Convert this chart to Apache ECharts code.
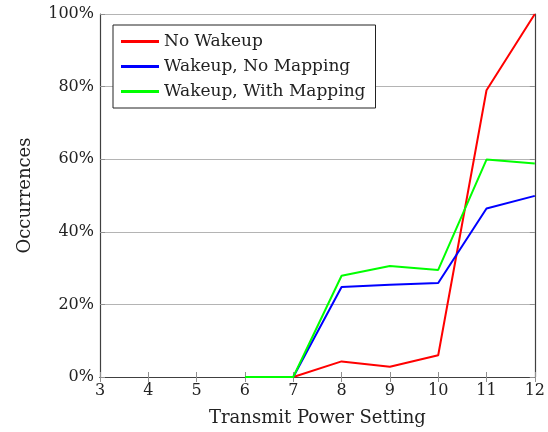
<!DOCTYPE html>
<html><head><meta charset="utf-8">
<script src="https://cdn.jsdelivr.net/npm/echarts@6/dist/echarts.min.js"></script>
<style>html,body{margin:0;padding:0;background:#fff}#c{width:548px;height:432px}</style>
</head><body><div id="c"></div>
<script>
const xValues = [3, 4, 5, 6, 7, 8, 9, 10, 11, 12];
const seriesNames = ['No Wakeup', 'Wakeup, No Mapping', 'Wakeup, With Mapping'];
const noWakeup = [null, null, null, null, 0, 4.3, 2.8, 6.0, 79.0, 100];
const wakeupNoMapping = [null, null, null, null, 0, 24.8, 25.4, 25.9, 46.4, 49.9];
const wakeupWithMapping = [null, null, null, 0, 0, 27.9, 30.6, 29.5, 59.9, 58.8];
const colors = ['#ff0000', '#0000ff', '#00ff00'];
const xTitle = 'Transmit Power Setting';
const yTitle = 'Occurrences';

const font = 'DejaVu Serif';
const pairs = arr => xValues.map((x, i) => [x, arr[i]]);
const chart = echarts.init(document.getElementById('c'));
const axisCommon = {
  axisLine: { show: true, lineStyle: { color: '#404040', width: 1.2 } },
  axisTick: { show: true, inside: true, length: 5, lineStyle: { color: '#909090', width: 1 } }
};
chart.setOption({
  animation: false,
  backgroundColor: '#fff',
  grid: { left: 100, right: 10, top: 14, bottom: 55, show: false },
  legend: {
    orient: 'vertical', left: 113, top: 25,
    data: seriesNames,
    icon: 'rect', itemWidth: 38, itemHeight: 3, itemGap: 8,
    borderColor: '#222', borderWidth: 1, backgroundColor: '#fff',
    padding: [8, 10, 8, 8],
    textStyle: { fontFamily: font, fontSize: 17, color: '#222' }
  },
  xAxis: [
    Object.assign({
      type: 'value', min: 3, max: 12, interval: 1, position: 'bottom',
      name: xTitle, nameLocation: 'middle', nameGap: 32,
      nameTextStyle: { fontFamily: font, fontSize: 18, color: '#222' },
      axisLabel: { fontFamily: font, fontSize: 16, color: '#222', margin: 6 },
      splitLine: { show: false }
    }, axisCommon),
    Object.assign({
      type: 'value', min: 3, max: 12, interval: 1, position: 'top',
      axisLabel: { show: false }, splitLine: { show: false }
    }, axisCommon)
  ],
  yAxis: [
    Object.assign({
      type: 'value', min: 0, max: 100, interval: 20, position: 'left',
      name: yTitle, nameLocation: 'middle', nameGap: 66,
      nameTextStyle: { fontFamily: font, fontSize: 18, color: '#222' },
      axisLabel: { fontFamily: font, fontSize: 16, color: '#222', margin: 6, formatter: '{value}%' },
      splitLine: { show: true, lineStyle: { color: '#b4b4b4', width: 1 } }
    }, axisCommon),
    Object.assign({
      type: 'value', min: 0, max: 100, interval: 20, position: 'right',
      axisLabel: { show: false }, splitLine: { show: false }
    }, axisCommon)
  ],
  series: [
    { name: seriesNames[0], type: 'line', data: pairs(noWakeup), color: colors[0], showSymbol: false, lineStyle: { width: 2 } },
    { name: seriesNames[1], type: 'line', data: pairs(wakeupNoMapping), color: colors[1], showSymbol: false, lineStyle: { width: 2 } },
    { name: seriesNames[2], type: 'line', data: pairs(wakeupWithMapping), color: colors[2], showSymbol: false, lineStyle: { width: 2 } }
  ]
});
</script></body></html>
